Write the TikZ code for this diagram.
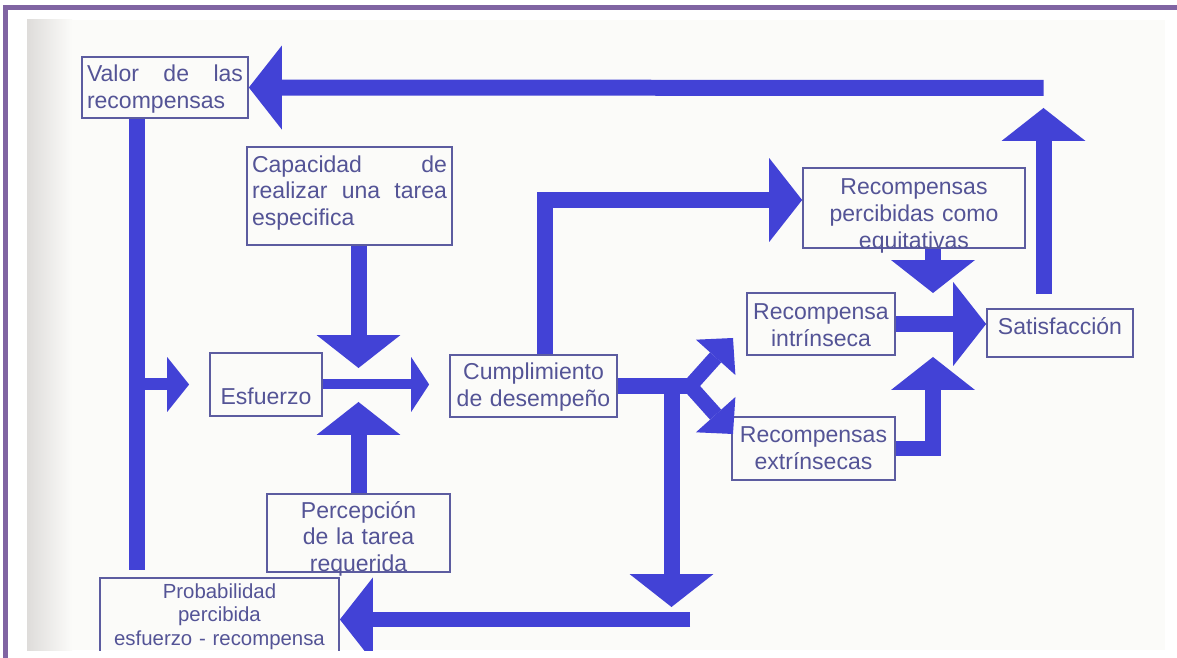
\documentclass[tikz,border=0pt]{standalone}
\usepackage{fontspec}
\setmainfont{Liberation Sans}
\usetikzlibrary{arrows.meta}
\definecolor{flowblue}{RGB}{66,66,214}
\definecolor{boxline}{RGB}{92,92,160}
\definecolor{boxtext}{RGB}{84,84,150}
\definecolor{framepurple}{RGB}{128,100,162}
\definecolor{paper}{RGB}{251,251,249}
\definecolor{papershade}{RGB}{222,220,218}
\tikzset{
  box/.style={draw=boxline, line width=1pt, text=boxtext, inner xsep=0.1cm, inner ysep=0pt,
    font=\fontsize{13.1}{15.1}\selectfont, align=center},
  bar/.style={draw=flowblue, line width=0.32cm},
  bigarrow/.style={bar, -{Triangle[length=0.66cm,width=1.68cm,line width=0pt]}},
  midarrow/.style={draw=flowblue, line width=0.2cm, -{Triangle[length=0.36cm,width=1.1cm,line width=0pt]}},
  smallarrow/.style={draw=flowblue, line width=0.24cm, -{Triangle[length=0.44cm,width=1.1cm,line width=0pt]}},
  forkarrow/.style={draw=flowblue, line width=0.3cm, -{Triangle[length=0.52cm,width=1.06cm,line width=0pt]}}
}
\begin{document}
\begin{tikzpicture}[x=0.02cm,y=-0.02cm]
\useasboundingbox (0,0) rectangle (1177,658);
% page and frame
\fill[white] (0,0) rectangle (1177,658);
\fill[paper] (27,20) rectangle (1165,650);
\shade[left color=papershade, right color=paper] (27,20) rectangle (72,650);
\draw[framepurple, line width=0.1cm] (5.5,658) -- (5.5,7.5) -- (1177,7.5);

\begin{scope}
\clip (27,20) rectangle (1165,650);
% boxes
\node[box, align=left, text width=3.12cm, text height=0.5cm, text depth=0.72cm] (valor) at (165,87.5)
  {Valor\hfill de\hfill las\\recompensas};
\node[box, align=left, text width=3.9cm, text height=0.5cm, text depth=1.46cm] (capac) at (349.5,196)
  {Capacidad\hfill de\\realizar\hfill una\hfill tarea\\especifica};
\node[box, text width=2.04cm, text height=1.04cm, text depth=0.22cm] (esfuerzo) at (266,384.5) {Esfuerzo};
\node[box, text width=3.14cm, text height=0.5cm, text depth=0.74cm] (cumpl) at (533.5,386)
  {Cumplimiento\\de desempeño};
\node[box, text width=3.46cm, text height=0.48cm, text depth=1.08cm] (percep) at (358.5,533)
  {Percepción\\de la tarea\\requerida};
\node[box, font=\fontsize{11.6}{13.4}\selectfont, text width=4.58cm, text height=0.4cm, text depth=1.34cm] (probab) at (219.5,621.5)
  {Probabilidad\\percibida\\esfuerzo - recompensa};
\node[box, text width=4.24cm, text height=0.54cm, text depth=1.06cm] (recperc) at (914,208)
  {Recompensas\\percibidas como\\equitativas};
\node[box, text width=2.76cm, text height=0.54cm, text depth=0.7cm] (intrin) at (821,324)
  {Recompensa\\intrínseca};
\node[box, text width=3.06cm, text height=0.52cm, text depth=0.74cm] (extrin) at (813.5,448.5)
  {Recompensas\\extrínsecas};
\node[box, text width=2.72cm, text height=0.52cm, text depth=0.44cm] (satisf) at (1060,333) {Satisfacción};

% points where the arrows meet
\coordinate (topR) at (1043.5,88);
\coordinate (lbot) at (136.5,570);
\coordinate (lmid) at (136.5,384.5);
\coordinate (meet) at (358.5,385);
\coordinate (up1) at (544.5,200);
\coordinate (conv) at (933,325);
\coordinate (fork) at (690,386);
\coordinate (drop) at (671.5,386);
\coordinate (dropend) at (671.5,607);
\coordinate (barR) at (690,619.5);
\coordinate (tipI) at (733,338);
\coordinate (tipE) at (733,434);

% arrows
\draw[bigarrow] (topR) -- (valor.east);
\draw[bigarrow] ([yshift=0.28cm]satisf.north -| topR) -- ([yshift=-0.4cm]topR);
\draw[bar] (valor.south -| lbot) -- (lbot);
\draw[smallarrow] (lmid) -- ([xshift=-0.4cm]esfuerzo.west);
\draw[bigarrow] (capac.south -| meet) -- ([yshift=0.34cm]meet);
\draw[bigarrow] (percep.north -| meet) -- ([yshift=-0.34cm]meet);
\draw[midarrow] (esfuerzo.east) -- ([xshift=-0.4cm]esfuerzo.east -| cumpl.west);
\draw[bigarrow] (cumpl.north -| up1) -- (up1) -- (up1 -| recperc.west);
\draw[bigarrow] (recperc.south -| conv) -- ([yshift=0.64cm]conv);
\draw[bigarrow] (intrin.east) -- (intrin.east -| satisf.west);
\draw[bigarrow] (extrin.east) -| ([yshift=-0.64cm]conv);
\draw[bar] (cumpl.east) -- (fork);
\draw[forkarrow] (fork) -- (tipI);
\draw[forkarrow] (fork) -- (tipE);
\draw[bigarrow] (drop) -- (dropend);
\draw[bigarrow] (barR) -- (barR -| probab.east);
\end{scope}
\end{tikzpicture}
\end{document}
